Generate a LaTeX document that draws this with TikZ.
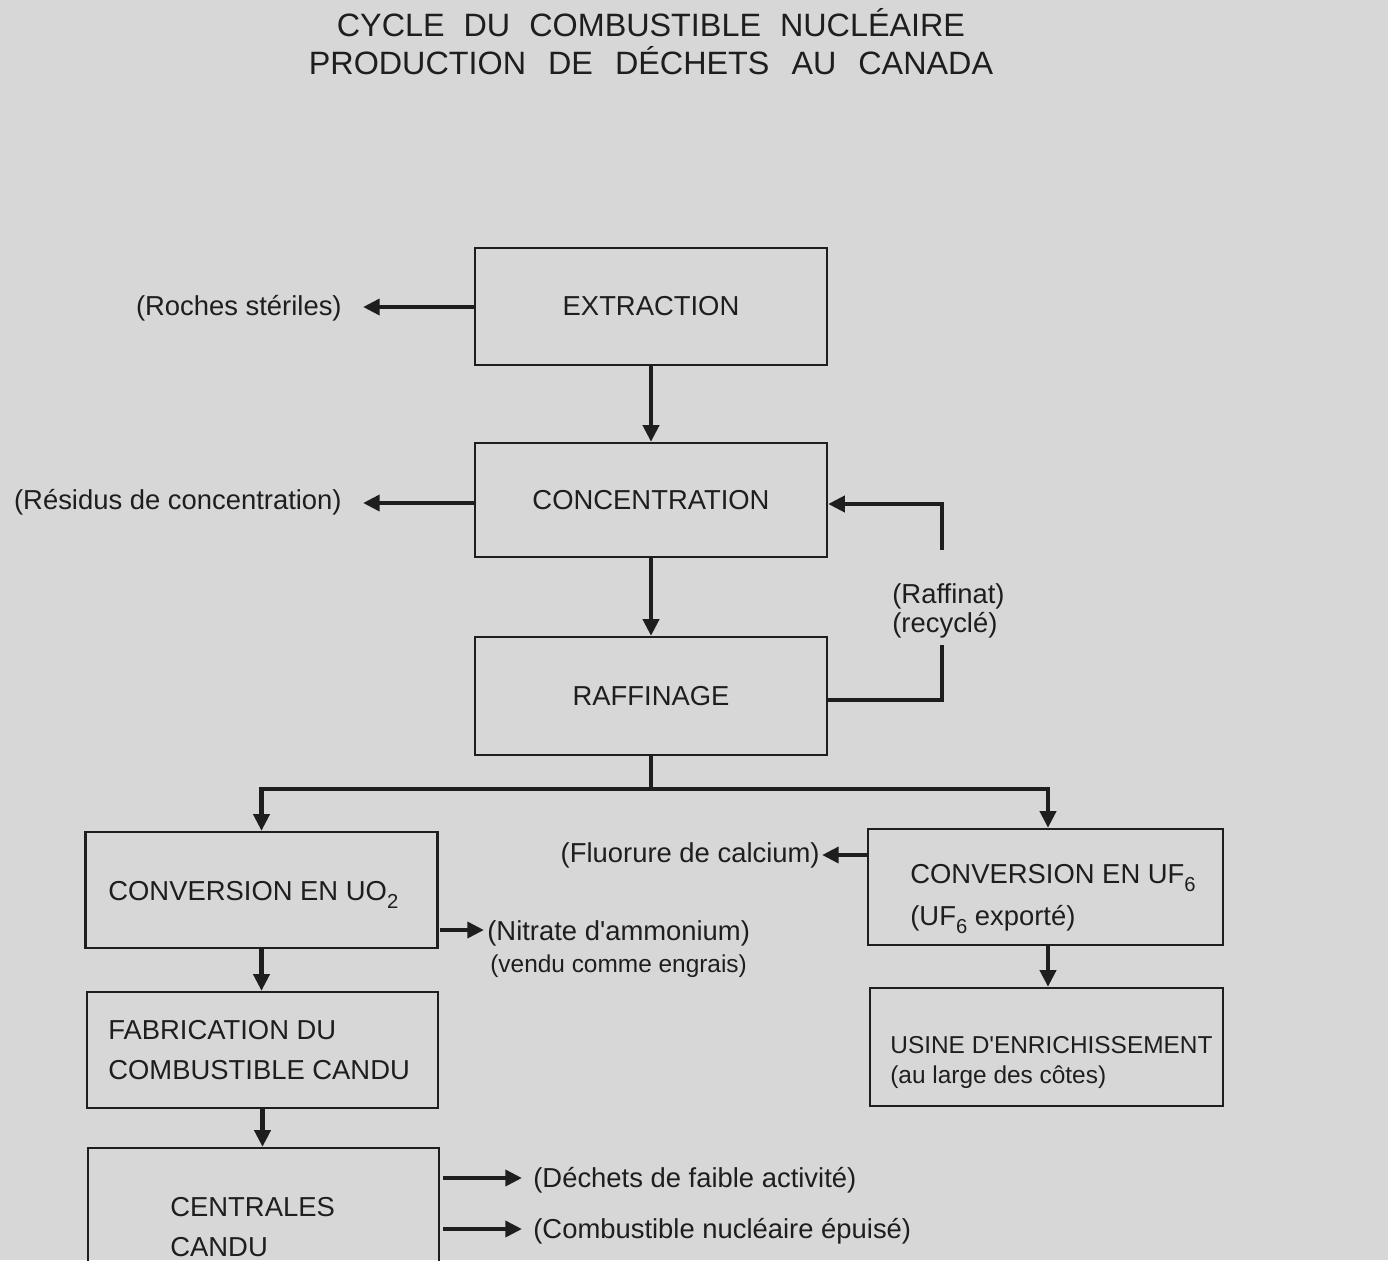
\documentclass[tikz,border=0pt]{standalone}
\usepackage{fontspec}
\setmainfont{Liberation Sans}
\usetikzlibrary{arrows.meta}
\definecolor{bg}{RGB}{215,215,215}
\definecolor{ink}{RGB}{30,30,30}
\newcommand\ftitle{\fontsize{18.4}{22}\selectfont}
\newcommand\fmain{\fontsize{15.6}{22.8}\selectfont}
\newcommand\fsmall{\fontsize{13.9}{17}\selectfont}
\newcommand\subsc[1]{\raisebox{-0.32em}{\fontsize{11.5}{12}\selectfont #1}}
\begin{document}
\begin{tikzpicture}[x=0.02cm,y=-0.02cm,
  every node/.style={text=ink},
  box/.style={draw=ink, line width=1.3pt, rectangle, inner sep=0pt, font=\fmain},
  lbl/.style={inner sep=0pt, font=\fmain},
  lbls/.style={inner sep=0pt, font=\fsmall},
  conn/.style={draw=ink, line width=2.4pt, line join=miter, -{Triangle[length=9.5pt,width=9pt]}},
  plain/.style={draw=ink, line width=2.4pt, line join=miter}]
\useasboundingbox (0,0) rectangle (1388,1260);
\clip (0,0) rectangle (1388,1260);
\fill[bg] (0,0) rectangle (1388,1260);

% title
\node[inner sep=0pt, anchor=base, font=\ftitle] (t1) at (651,37) {\spaceskip=0.38cm\relax CYCLE DU COMBUSTIBLE NUCLÉAIRE};
\node[inner sep=0pt, anchor=base, font=\ftitle] (t2) at (651,75) {\spaceskip=0.44cm\relax PRODUCTION DE DÉCHETS AU CANADA};

% main column
\node[box, minimum width=7.04cm, minimum height=2.34cm] (ext) at (651,306.5) {EXTRACTION};
\node[box, minimum width=7.04cm, minimum height=2.28cm] (conc) at (651,500) {CONCENTRATION};
\node[box, minimum width=7.04cm, minimum height=2.36cm] (raff) at (651,696) {RAFFINAGE};

% left column
\node[box, minimum width=7.04cm, minimum height=2.32cm] (uo2) at (261.5,890) {};
\node[box, minimum width=7.02cm, minimum height=2.32cm] (fab) at (262.5,1050) {};
\node[box, minimum width=7.02cm, minimum height=3.04cm] (cent) at (263.5,1224) {};

% right column
\node[box, minimum width=7.10cm, minimum height=2.32cm] (uf6) at (1045.5,887) {};
\node[box, minimum width=7.06cm, minimum height=2.36cm] (usine) at (1046.5,1047) {};

% box texts
\node[lbl, anchor=base west] (uo2T) at (108,900) {CONVERSION EN UO\subsc{2}};
\node[lbl, anchor=north west, align=left] (fabT) at (108,1020) {FABRICATION DU\\COMBUSTIBLE CANDU};
\node[lbl, anchor=north west, align=left] (centT) at (170,1197) {CENTRALES\\CANDU};
\node[lbl, anchor=base west] (uf6T) at (910,883) {CONVERSION EN UF\subsc{6}};
\node[lbl, anchor=base west] (uf6T2) at (910,925) {(UF\subsc{6} exporté)};
\node[lbls, anchor=base west] (usT) at (890,1053) {USINE D\textquotesingle ENRICHISSEMENT};
\node[lbls, anchor=base west] (usT2) at (890,1083) {(au large des côtes)};

% side labels
\node[lbl, anchor=base east] (roches) at (342,316) {(Roches stériles)};
\node[lbl, anchor=base east] (resid) at (342,509) {(Résidus de concentration)};
\node[lbl, anchor=base west] (raffT) at (892,603) {(Raffinat)};
\node[lbl, anchor=base west] (recT) at (892,632) {(recyclé)};
\node[lbl, anchor=base east] (fluo) at (820,862) {(Fluorure de calcium)};
\node[lbl, anchor=base west] (nitr) at (487,940) {(Nitrate d\textquotesingle ammonium)};
\node[lbls, anchor=base west] (vendu) at (490,972) {(vendu comme engrais)};
\node[lbl, anchor=base west] (dech) at (533,1187) {(Déchets de faible activité)};
\node[lbl, anchor=base west] (comb) at (533,1238) {(Combustible nucléaire épuisé)};

% free ends
\coordinate (rochesE) at (363,307);
\coordinate (residE) at (363,503);
\coordinate (recA) at (942,645);
\coordinate (recB) at (942,550);
\coordinate (split) at (651,789);
\coordinate (nitS) at (440,930);
\coordinate (nitE) at (484,930);
\coordinate (fluE) at (822,855);
\coordinate (dechS) at (443,1178);
\coordinate (dechE) at (522,1178);
\coordinate (combS) at (443,1229);
\coordinate (combE) at (522,1229);

% connectors
\draw[conn] (ext.west |- rochesE) -- (rochesE);
\draw[conn] (ext.south) -- (conc.north);
\draw[conn] (conc.west |- residE) -- (residE);
\draw[conn] (conc.south) -- (raff.north);
\draw[plain] ([yshift=-0.08cm]raff.east) -| (recA);
\draw[conn] (recB) |- ([yshift=-0.08cm]conc.east);
\draw[plain] (raff.south) -- (split);
\draw[conn] (split) -| (uo2.north);
\draw[conn] (split) -| ([xshift=0.05cm]uf6.north);
\draw[conn] (uo2.south) -- (uo2.south |- fab.north);
\draw[conn] (fab.south) -- (fab.south |- cent.north);
\draw[conn] (nitS) -- (nitE);
\draw[conn] (uf6.west |- fluE) -- (fluE);
\draw[conn] ([xshift=0.05cm]uf6.south) -- ([xshift=0.05cm]uf6.south |- usine.north);
\draw[conn] (dechS) -- (dechE);
\draw[conn] (combS) -- (combE);
\end{tikzpicture}
\end{document}
